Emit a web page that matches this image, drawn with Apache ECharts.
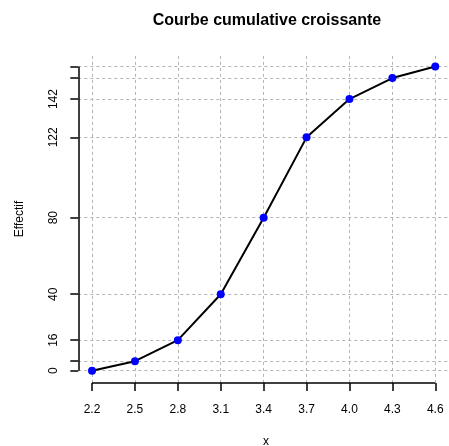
<!DOCTYPE html>
<html>
<head>
<meta charset="utf-8">
<script src="https://cdn.jsdelivr.net/npm/echarts@6/dist/echarts.min.js"></script>
<style>html,body{margin:0;padding:0;background:#fff;}#c{width:449px;height:446px;}</style>
</head>
<body>
<div id="c"></div>
<script>
// Data
var xValues = [2.2, 2.5, 2.8, 3.1, 3.4, 3.7, 4.0, 4.3, 4.6];
var cumValues = [0, 5, 16, 40, 80, 122, 142, 153, 159];
var yLabelValues = [0, 16, 40, 80, 122, 142];
var titleText = 'Courbe cumulative croissante';
var xName = 'x';
var yName = 'Effectif';

// R-style axis limits (range extended by 4%)
var xMin = xValues[0] - 0.04 * (xValues[xValues.length - 1] - xValues[0]);
var xMax = xValues[xValues.length - 1] + 0.04 * (xValues[xValues.length - 1] - xValues[0]);
var yMin = cumValues[0] - 0.04 * (cumValues[cumValues.length - 1] - cumValues[0]);
var yMax = cumValues[cumValues.length - 1] + 0.04 * (cumValues[cumValues.length - 1] - cumValues[0]);

var points = xValues.map(function (x, i) { return [x, cumValues[i]]; });
var font = 'Liberation Sans, Arial, Helvetica, sans-serif';

var gridLines = [];
xValues.forEach(function (v) { gridLines.push({ xAxis: v }); });
cumValues.forEach(function (v) { gridLines.push({ yAxis: v }); });

var axisStyle = { color: '#000', width: 1.5, type: 'solid' };

var chart = echarts.init(document.getElementById('c'), null, { renderer: 'canvas' });
chart.setOption({
  animation: false,
  backgroundColor: '#fff',
  graphic: [
    { type: 'text', x: 267, y: 21, style: { text: titleText, font: 'bold 16px ' + font, fill: '#000', align: 'center', verticalAlign: 'middle' } },
    { type: 'text', x: 266, y: 442, style: { text: xName, font: '12px ' + font, fill: '#000', align: 'center', verticalAlign: 'middle' } },
    { type: 'text', rotation: Math.PI / 2, x: 20, y: 219, style: { text: yName, font: '12px ' + font, fill: '#000', align: 'center', verticalAlign: 'middle' } }
  ],
  grid: { left: 78.3, top: 54.4, width: 377.4, height: 328.5, containLabel: false },
  xAxis: {
    type: 'value', min: xMin, max: xMax,
    axisLine: { show: false, onZero: false },
    splitLine: { show: false },
    axisTick: { show: true, length: 8, customValues: xValues, lineStyle: axisStyle },
    axisLabel: {
      customValues: xValues, margin: 21,
      formatter: function (v) { return v.toFixed(1); },
      fontFamily: font, fontSize: 12, color: '#000'
    }
  },
  yAxis: {
    type: 'value', min: yMin, max: yMax,
    axisLine: { show: false, onZero: false },
    splitLine: { show: false },
    axisTick: { show: true, length: 8, customValues: cumValues, lineStyle: axisStyle },
    axisLabel: {
      customValues: yLabelValues, margin: 19, rotate: 90,
      fontFamily: font, fontSize: 12, color: '#000'
    }
  },
  series: [
    {
      type: 'line', data: points, z: 1, silent: true,
      showSymbol: false, lineStyle: { opacity: 0 },
      markLine: {
        z: 1,
        silent: true, symbol: ['none', 'none'], animation: false,
        label: { show: false },
        lineStyle: { color: '#b4b4b4', type: [3, 3], width: 1 },
        data: gridLines
      }
    },
    {
      type: 'line', data: [], z: 4, silent: true,
      markLine: {
        z: 4,
        silent: true, symbol: ['none', 'none'], animation: false,
        label: { show: false },
        lineStyle: axisStyle,
        data: [
          [{ coord: [xValues[0], yMin] }, { coord: [xValues[xValues.length - 1], yMin] }],
          [{ coord: [xMin, cumValues[0]] }, { coord: [xMin, cumValues[cumValues.length - 1]] }]
        ]
      }
    },
    {
      type: 'line', data: points, z: 3,
      lineStyle: { color: '#000', width: 2 },
      symbol: 'circle', symbolSize: 8,
      itemStyle: { color: '#0000ff', borderColor: '#0000ff', borderWidth: 0 },
      showAllSymbol: true
    }
  ]
});
</script>
</body>
</html>
